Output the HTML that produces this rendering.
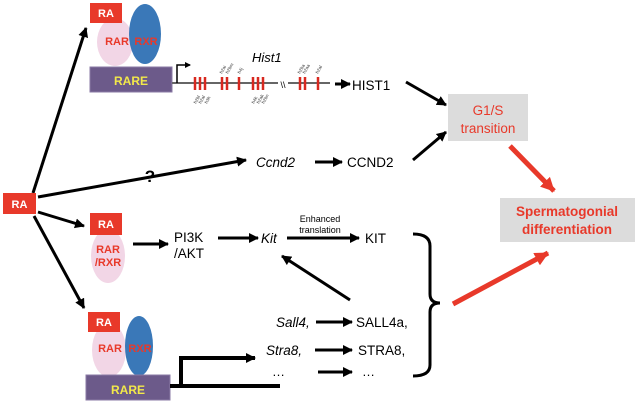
<!DOCTYPE html>
<html><head><style>body{margin:0;background:#fff}svg{display:block}</style></head><body>
<svg width="636" height="404" viewBox="0 0 636 404" xmlns="http://www.w3.org/2000/svg" font-family="Liberation Sans, Arial, sans-serif">
<defs>
<marker id="a" markerWidth="6" markerHeight="6" refX="5" refY="3" orient="auto" markerUnits="userSpaceOnUse" viewBox="0 0 6 6"><path d="M0,0 L6,3 L0,6z" fill="#000"/></marker>
<marker id="ab" markerWidth="10" markerHeight="10" refX="9" refY="5" orient="auto" markerUnits="userSpaceOnUse" viewBox="0 0 10 10"><path d="M0,0 L10,5 L0,10z" fill="#000"/></marker>
<marker id="r" markerWidth="14" markerHeight="14" refX="13" refY="7" orient="auto" markerUnits="userSpaceOnUse" viewBox="0 0 14 14"><path d="M0,0 L14,7 L0,14z" fill="#e8392a"/></marker>
</defs>
<g stroke="#000" stroke-width="3" fill="none">
<line x1="33" y1="193" x2="86" y2="28" marker-end="url(#ab)"/>
<line x1="38" y1="197" x2="246" y2="160" marker-end="url(#ab)"/>
<line x1="38" y1="212" x2="84" y2="226" marker-end="url(#ab)"/>
<line x1="34" y1="216" x2="84" y2="308" marker-end="url(#ab)"/>
<line x1="133" y1="244" x2="168" y2="244" marker-end="url(#ab)"/>
<line x1="218" y1="238" x2="258" y2="238" marker-end="url(#ab)"/>
<line x1="287" y1="238" x2="359" y2="238" marker-end="url(#ab)"/>
<line x1="350" y1="300" x2="282" y2="256" marker-end="url(#ab)"/>
<line x1="315" y1="162" x2="342" y2="162" marker-end="url(#ab)"/>
<line x1="413" y1="160" x2="446" y2="132" marker-end="url(#ab)"/>
<line x1="406" y1="82" x2="446" y2="105" marker-end="url(#ab)"/>
<line x1="335" y1="84" x2="350" y2="84" marker-end="url(#ab)"/>
<line x1="316" y1="322" x2="352" y2="322" marker-end="url(#ab)"/>
<line x1="315" y1="350" x2="352" y2="350" marker-end="url(#ab)"/>
<line x1="318" y1="372" x2="352" y2="372" marker-end="url(#ab)"/>
</g>
<g stroke="#e8392a" stroke-width="5">
<line x1="510" y1="146" x2="554" y2="191" marker-end="url(#r)"/>
<line x1="453" y1="304" x2="548" y2="253" marker-end="url(#r)"/>
</g>
<path d="M413,234 Q430,234 430,246 L430,294 Q430,303 440,303 Q430,303 430,312 L430,365 Q430,376 413,376" stroke="#000" stroke-width="3" fill="none"/>
<rect x="448" y="94" width="80" height="47" fill="#dcdcdc"/>
<text x="488" y="115" font-size="13.5" fill="#e8392a" text-anchor="middle">G1/S</text>
<text x="488" y="133" font-size="13.5" fill="#e8392a" text-anchor="middle">transition</text>
<rect x="500" y="198" width="135" height="44" fill="#dcdcdc"/>
<text x="567" y="216" font-size="13.5" font-weight="bold" fill="#e8392a" text-anchor="middle">Spermatogonial</text>
<text x="567" y="234" font-size="13.5" font-weight="bold" fill="#e8392a" text-anchor="middle">differentiation</text>
<rect x="3" y="193" width="33" height="21" fill="#e8392a"/>
<text x="19.5" y="208" font-size="11" font-weight="bold" fill="#fff" text-anchor="middle">RA</text>
<text x="150" y="182" font-size="17" font-weight="bold" text-anchor="middle">?</text>
<ellipse cx="115" cy="42" rx="18" ry="24" fill="#f2d6e6"/>
<ellipse cx="145" cy="34" rx="16" ry="30" fill="#3a78b8"/>
<rect x="90" y="3" width="32" height="20" fill="#e8392a"/>
<text x="106" y="17" font-size="11" font-weight="bold" fill="#fff" text-anchor="middle">RA</text>
<text x="117" y="45" font-size="11" font-weight="bold" fill="#e8392a" text-anchor="middle">RAR</text>
<text x="146" y="45" font-size="11" font-weight="bold" fill="#e8392a" text-anchor="middle">RXR</text>
<rect x="90" y="67" width="82" height="25" fill="#6c5a8a" stroke="#8a7aa4"/>
<text x="131" y="85" font-size="12" font-weight="bold" fill="#f2e84a" text-anchor="middle">RARE</text>
<line x1="172" y1="83" x2="330" y2="83" stroke="#666" stroke-width="2"/>
<path d="M177,83 L177,65 L190,65" stroke="#000" stroke-width="1.5" fill="none" marker-end="url(#a)"/>
<g stroke="#d8281f" stroke-width="2.5">
<line x1="195" y1="77" x2="195" y2="90"/><line x1="200" y1="77" x2="200" y2="90"/><line x1="205" y1="77" x2="205" y2="90"/>
<line x1="222" y1="77" x2="222" y2="90"/><line x1="227" y1="77" x2="227" y2="90"/>
<line x1="239" y1="77" x2="239" y2="90"/>
<line x1="253" y1="77" x2="253" y2="90"/><line x1="258" y1="77" x2="258" y2="90"/><line x1="263" y1="77" x2="263" y2="90"/>
<line x1="300" y1="77" x2="300" y2="90"/><line x1="305" y1="77" x2="305" y2="90"/>
<line x1="318" y1="77" x2="318" y2="90"/>
</g>
<rect x="278" y="78" width="10" height="10" fill="#fff"/>
<text x="283" y="88" font-size="9" text-anchor="middle">\\</text>
<text x="252" y="62" font-size="13" font-style="italic">Hist1</text>
<g font-size="4.5" fill="#333">
<text transform="translate(196,104) rotate(-60)">h2bl</text><text transform="translate(201,104) rotate(-60)">h2al</text><text transform="translate(207,104) rotate(-60)">h3h</text>
<text transform="translate(222,74) rotate(-60)">h2ai</text><text transform="translate(228,74) rotate(-60)">h2bm</text><text transform="translate(240,74) rotate(-60)">h4j</text>
<text transform="translate(254,104) rotate(-60)">h4k</text><text transform="translate(259,104) rotate(-60)">h2ak</text><text transform="translate(264,104) rotate(-60)">h2bn</text>
<text transform="translate(300,74) rotate(-60)">h2ba</text><text transform="translate(305,74) rotate(-60)">h2aa</text><text transform="translate(318,74) rotate(-60)">h2al</text>
</g>
<text x="352" y="90" font-size="13.5">HIST1</text>
<text x="256" y="167" font-size="13.5" font-style="italic">Ccnd2</text>
<text x="347" y="167" font-size="13.5">CCND2</text>
<ellipse cx="108" cy="256" rx="17" ry="27" fill="#f2d6e6"/>
<rect x="90" y="213" width="32" height="22" fill="#e8392a"/>
<text x="106" y="228" font-size="11" font-weight="bold" fill="#fff" text-anchor="middle">RA</text>
<text x="108" y="253" font-size="11" font-weight="bold" fill="#e8392a" text-anchor="middle">RAR</text>
<text x="108" y="266" font-size="11" font-weight="bold" fill="#e8392a" text-anchor="middle">/RXR</text>
<text x="174" y="242" font-size="13.5">PI3K</text>
<text x="174" y="258" font-size="13.5">/AKT</text>
<text x="261" y="243" font-size="13.5" font-style="italic">Kit</text>
<text x="320" y="222" font-size="9" text-anchor="middle">Enhanced</text>
<text x="320" y="233" font-size="9" text-anchor="middle">translation</text>
<text x="365" y="243" font-size="13.5">KIT</text>
<ellipse cx="109" cy="350" rx="17" ry="27" fill="#f2d6e6"/>
<ellipse cx="139" cy="346" rx="14" ry="30" fill="#3a78b8"/>
<rect x="88" y="312" width="32" height="20" fill="#e8392a"/>
<text x="104" y="326" font-size="11" font-weight="bold" fill="#fff" text-anchor="middle">RA</text>
<text x="110" y="352" font-size="11" font-weight="bold" fill="#e8392a" text-anchor="middle">RAR</text>
<text x="140" y="352" font-size="11" font-weight="bold" fill="#e8392a" text-anchor="middle">RXR</text>
<rect x="86" y="375" width="84" height="25" fill="#6c5a8a" stroke="#8a7aa4"/>
<text x="128" y="394" font-size="12" font-weight="bold" fill="#f2e84a" text-anchor="middle">RARE</text>
<path d="M170,386 L280,386" stroke="#000" stroke-width="4"/>
<path d="M181,386 L181,358 L255,358" stroke="#000" stroke-width="4" fill="none" marker-end="url(#ab)"/>
<text x="276" y="327" font-size="13.5" font-style="italic">Sall4,</text>
<text x="356" y="327" font-size="13.5">SALL4a,</text>
<text x="266" y="355" font-size="13.5" font-style="italic">Stra8,</text>
<text x="358" y="355" font-size="13.5">STRA8,</text>
<text x="272" y="376" font-size="13">…</text>
<text x="362" y="376" font-size="13">…</text>
</svg>
</body></html>
